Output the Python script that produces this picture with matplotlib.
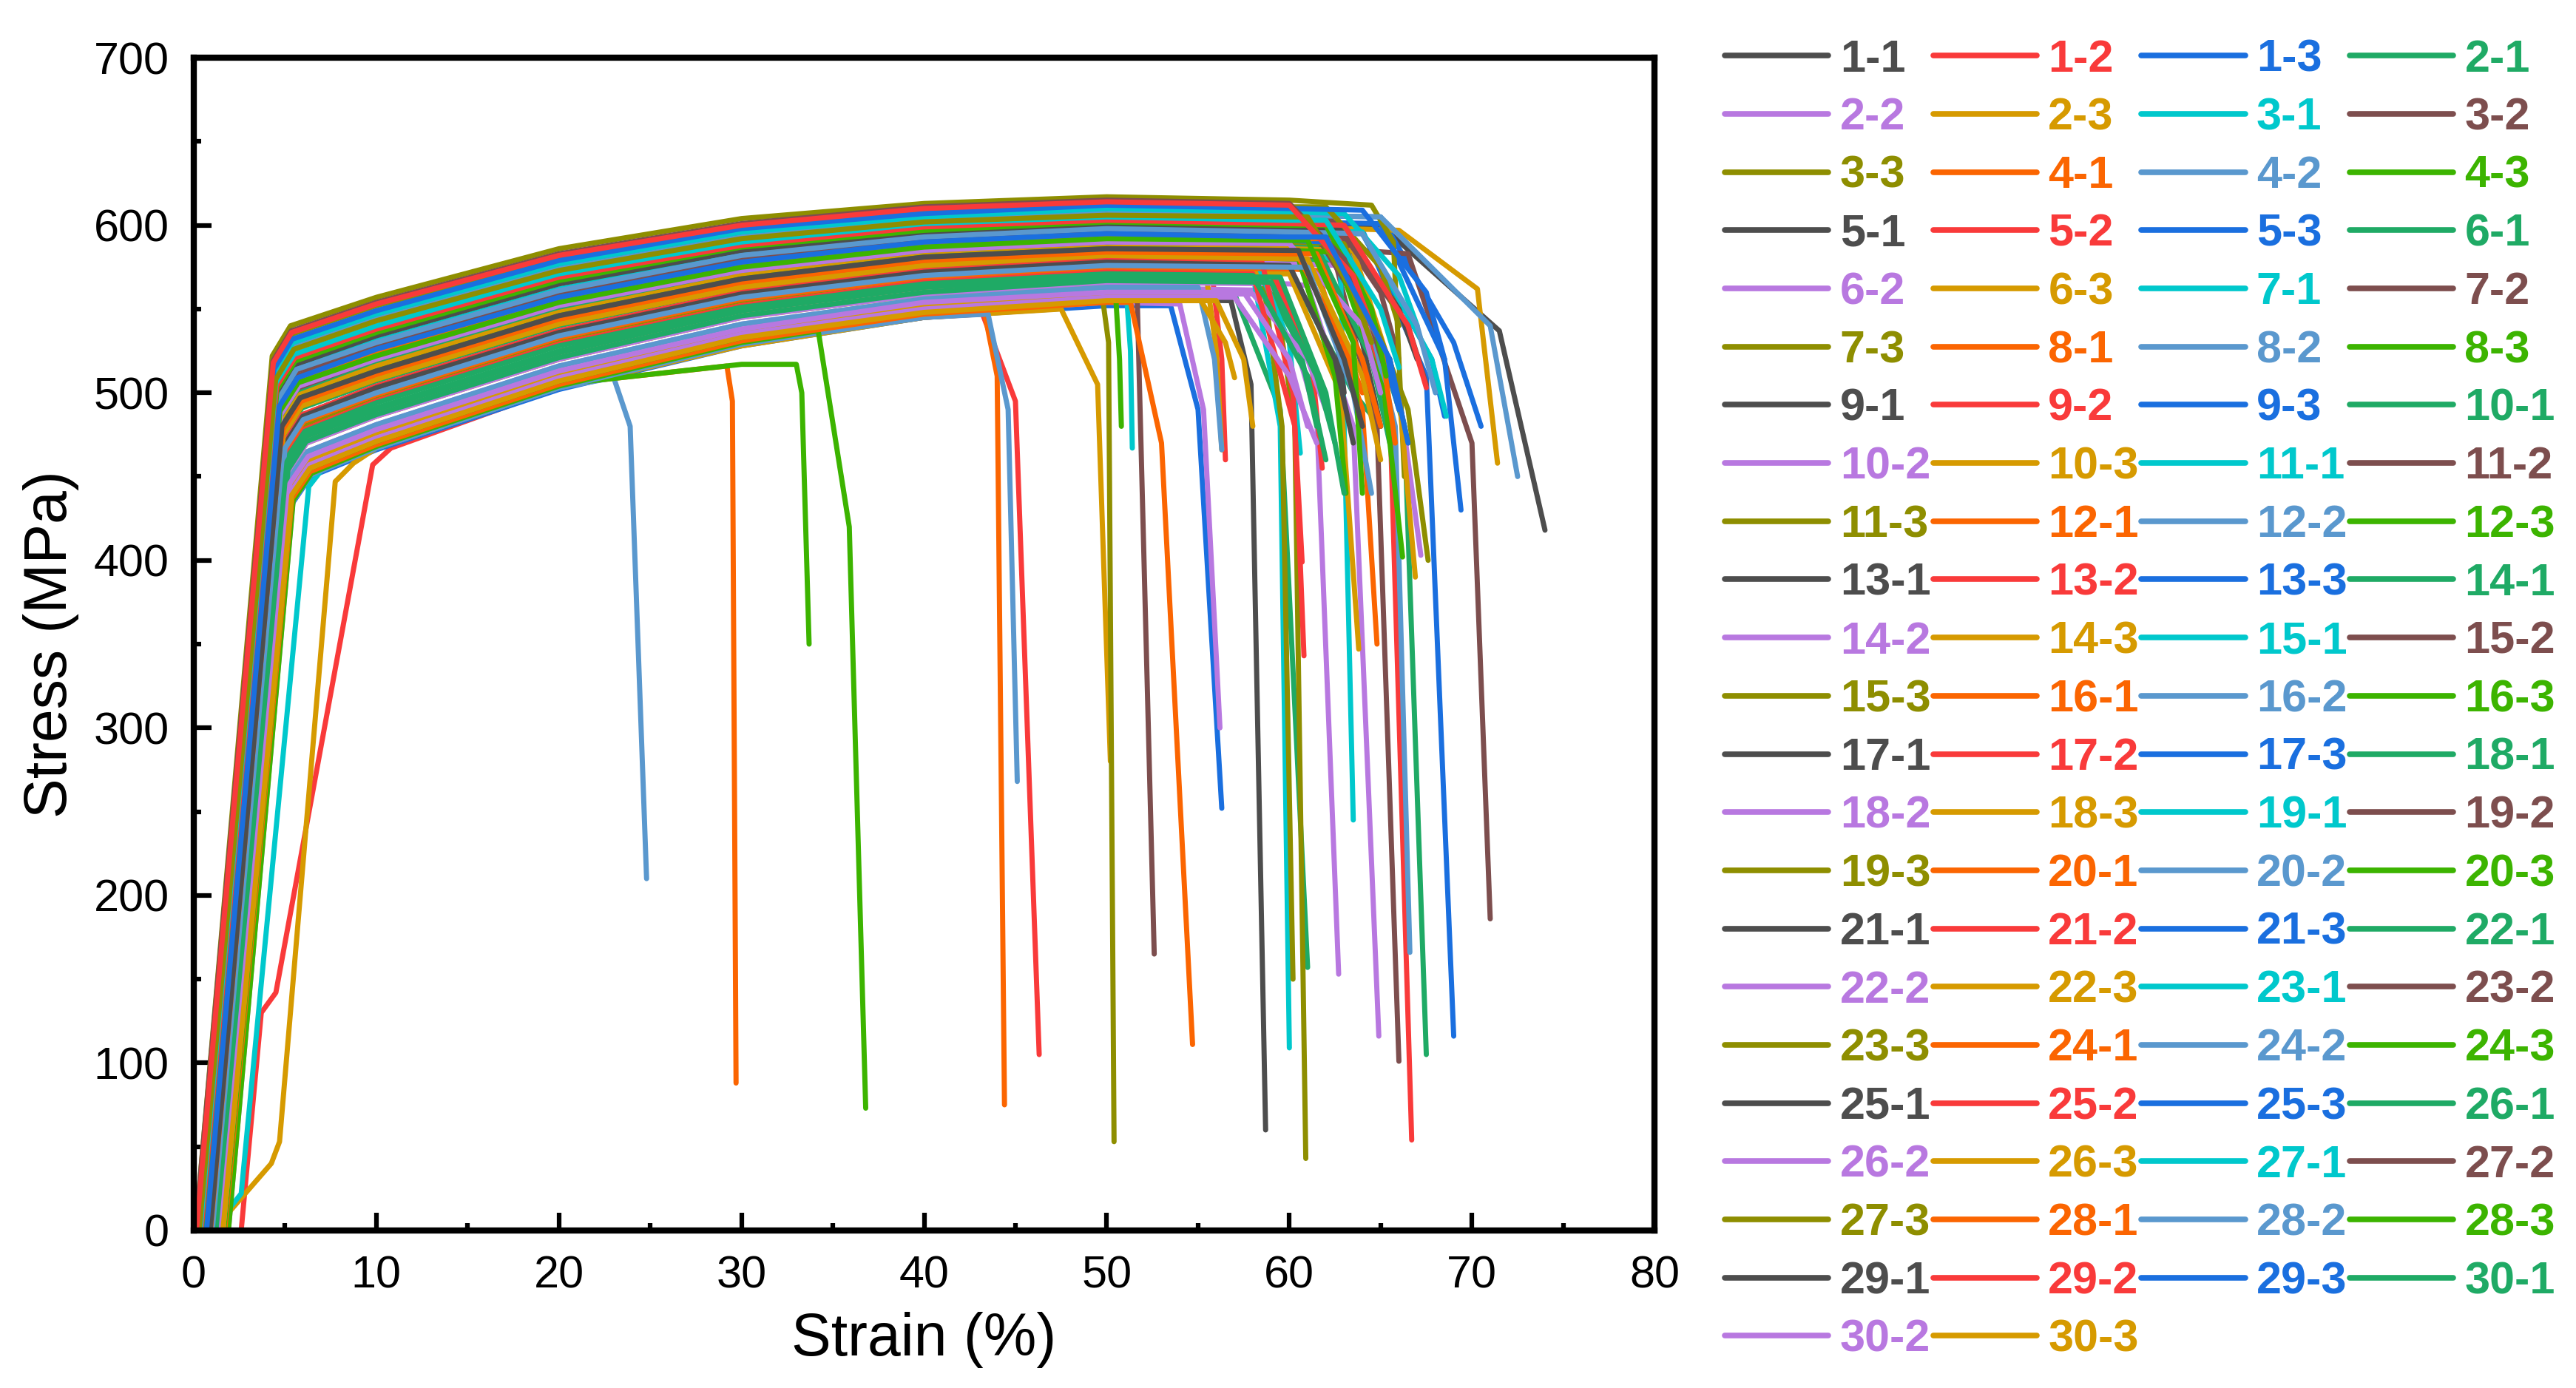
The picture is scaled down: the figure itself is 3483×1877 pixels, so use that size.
import numpy as np
import matplotlib
matplotlib.use("Agg")
import matplotlib.pyplot as plt
from matplotlib.ticker import MultipleLocator

plt.rcParams['font.family'] = ['Liberation Sans', 'DejaVu Sans']

nan = np.nan

# ---------------- categories ----------------
specimens = list(range(1, 31))
repeats = [1, 2, 3]
labels = [f"{s}-{r}" for s in specimens for r in repeats]

palette = ['#4D4D4D', '#F93A3A', '#1A6FDF', '#1FAA65', '#B878E0', '#D69A00',
           '#00C8CC', '#7D4E4E', '#8E8E00', '#FB6501', '#5A98CE', '#3CB400']

# hardening read-out strains (%)
grid_strain = [10, 20, 30, 40, 50, 60]
knee_offset = 1.0   # strain (%) between end of elastic line and knee point

# ---------------- values ----------------
toe_x = [1.6, 2.6, 1.7, 1.5, 1.9, 0.3, 1.0, 0.3, 1.6, 1.8,
         1.75, 1.7, 0.4, 1.3, 0.5, 1.2, 1.5, 1.4, 1.3, 1.0,
         1.2, 1.8, 1.7, 1.9, 0.9, 0.7, 0.3, 1.0, 1.4, 0.5,
         0.15, 0.9, 1.1, 1.7, 0.95, 1.65, 0.8, 1.2, 0.4, 1.3,
         1.1, 1.25, 0.9, 0.25, 0.1, 1.2, 0.3, 1.0, 0.7, 1.1,
         0.6, 0.85, 1.5, 0.9, 0.6, 0.7, 0.8, 1.0, 1.45, 0.95,
         0.5, 1.3, 0.75, 1.35, 0.8, 1.5, 0.25, 0.6, 0.15, 0.7,
         0.6, 0.5, 1.1, 0.4, 0.25, 1.3, 1.6, 1.0, 0.35, 0.1,
         0.3, 0.95, 1.2, 0.8, 0.9, 0.15, 0.7, 1.3, 1.5, 1.6]

yld_x = [5.35, 9.8, 5.40, 5.29, 5.45, 7.75, 6.3, 4.47, 5.38, 5.42,
         5.40, 5.38, 4.52, 5.13, 4.58, 5.02, 5.24, 5.18, 5.07, 4.91,
         5.05, 5.40, 5.42, 5.45, 4.80, 4.69, 4.47, 4.93, 5.18, 4.58,
         4.36, 4.78, 4.96, 5.38, 4.85, 5.36, 4.74, 5.02, 4.52, 5.13,
         4.96, 5.07, 4.85, 4.41, 4.30, 5.02, 4.47, 4.91, 4.69, 4.96,
         4.63, 4.80, 5.29, 4.82, 4.61, 4.67, 4.74, 4.89, 5.24, 4.83,
         4.60, 5.07, 4.72, 5.16, 4.76, 5.31, 4.43, 4.65, 4.38, 4.71,
         4.63, 4.56, 4.98, 4.54, 4.39, 5.09, 5.33, 4.91, 4.50, 4.34,
         4.49, 4.87, 5.00, 4.72, 4.83, 4.36, 4.69, 5.11, 5.27, 5.37]

yld_s = [440, 457, 434, 445, 437, 447, 444, 509, 438, 436,
         435, 437, 505, 458, 501, 466, 449, 453, 462, 475,
         464, 436, 435, 436, 483, 492, 509, 474, 453, 501,
         518, 484, 470, 437, 479, 439, 488, 466, 505, 458,
         470, 462, 479, 513, 522, 466, 509, 475, 492, 470,
         496, 483, 445, 482, 497, 493, 488, 476, 449, 480,
         500, 462, 489, 454, 487, 444, 512, 495, 517, 491,
         496, 502, 469, 504, 514, 461, 441, 475, 506, 519,
         508, 478, 467, 489, 480, 518, 492, 459, 446, 439]

knee_s = [456, 467, 450, 461, 453, 458, 458, 527, 454, 452,
          451, 453, 522, 474, 518, 483, 465, 470, 478, 492,
          480, 452, 451, 452, 500, 509, 527, 491, 470, 518,
          536, 501, 487, 453, 496, 455, 505, 483, 522, 474,
          487, 478, 496, 531, 540, 483, 527, 492, 509, 487,
          514, 500, 461, 499, 515, 510, 505, 493, 465, 497,
          517, 478, 506, 471, 504, 460, 530, 513, 535, 508,
          514, 519, 486, 521, 532, 477, 457, 492, 523, 537,
          526, 495, 484, 506, 497, 536, 509, 475, 462, 455]

s10 = [472, nan, 466, 477, 469, 467, 472, 544, 470, 468,
       467, 469, 539, 490, 535, 499, 481, 486, 495, 508,
       497, 468, 467, 468, 517, 526, 544, 507, 486, 535,
       553, 518, 504, 469, 512, 471, 521, 499, 539, 490,
       504, 495, 512, 548, 557, 499, 544, 508, 526, 504,
       530, 517, 477, 516, 531, 527, 521, 509, 481, 513,
       534, 495, 522, 487, 520, 476, 547, 529, 552, 525,
       530, 536, 503, 538, 549, 494, 473, 508, 540, 554,
       543, 511, 500, 522, 513, 553, 526, 491, 478, 471]

s20 = [508, 503, 502, 512, 505, 503, 508, 574, 506, 505,
       503, 505, 570, 524, 566, 533, 516, 520, 529, 541,
       531, 504, 503, 504, 549, 557, 574, 540, 520, 566,
       582, 550, 537, 505, 545, 507, 553, 533, 570, 524,
       537, 529, 545, 578, 586, 533, 574, 541, 557, 537,
       561, 549, 512, 548, 562, 558, 553, 542, 516, 546,
       565, 529, 554, 521, 552, 511, 577, 560, 581, 556,
       561, 567, 536, 569, 579, 528, 509, 541, 571, 583,
       573, 544, 534, 554, 546, 582, 557, 525, 513, 507]

s30 = [534, 529, 528, 537, 531, 528, 534, 593, 532, nan,
       nan, 517, 589, 549, 586, 556, 541, 545, 552, 563,
       554, 530, 529, 530, 571, 578, 593, 562, 545, 586,
       600, 572, 560, 531, 567, 533, 574, 556, 589, 549,
       560, 552, 567, 597, 604, 556, 593, 563, 578, 560,
       582, 571, 537, 570, 583, 579, 574, 564, 541, 568,
       585, 552, 575, 546, 573, 536, 596, 581, 599, 577,
       582, 587, 559, 588, 598, 551, 535, 563, 590, 601,
       592, 566, 557, 575, 568, 600, 578, 550, 538, 533]

s40 = [549, 545, 545, 553, 547, 545, 549, 603, 548, nan,
       nan, nan, 600, 563, 596, 569, 556, 559, 566, 576,
       568, 546, 545, nan, 583, 590, 603, 575, 559, 596,
       610, 584, 573, 547, 580, 549, 586, 569, 600, 563,
       573, 566, 580, 606, 613, 569, 603, 576, 590, 573,
       593, 583, 553, 582, 594, 591, 586, 577, 556, 581,
       595, 566, 587, 560, 585, 552, 605, 592, 609, 589,
       593, 597, 572, 599, 607, 565, 550, 576, 601, 611,
       602, 579, 570, 587, 581, 610, 590, 564, 554, 548]

s50 = [556, nan, 552, 559, 554, nan, 556, nan, nan, nan,
       nan, nan, 604, 569, 601, 575, 563, 566, 572, 582,
       574, nan, nan, nan, 588, 595, 607, 581, 566, 601,
       614, 589, 579, 554, 585, 556, 591, 575, 604, 569,
       579, 572, 585, 611, 617, 575, 607, 582, 595, 579,
       598, 588, 559, 587, 599, 596, 591, 583, 563, 586,
       600, 572, 592, 567, 590, 558, 610, 597, 613, 594,
       598, 602, 578, 603, 612, 571, 557, 582, 605, 615,
       606, 584, 576, 592, 586, 614, 595, 570, 560, 555]

s60 = [nan, nan, nan, nan, nan, nan, nan, nan, nan, nan,
       nan, nan, 602, nan, 599, nan, nan, nan, nan, 580,
       nan, nan, nan, nan, 587, 593, 606, 579, 565, 599,
       nan, 588, nan, nan, 584, nan, nan, nan, 602, nan,
       577, nan, nan, 609, 615, 574, 606, 580, 593, nan,
       596, 587, nan, 586, 597, 594, 590, 581, nan, 585,
       598, nan, 591, nan, nan, nan, 608, 595, 611, 592,
       596, 600, nan, 601, 610, nan, nan, 580, 603, nan,
       605, 583, 575, 591, 585, nan, 593, nan, nan, nan]

neck_x = [56.8, 43.2, 53.5, 57.0, 54.0, 47.5, 51.1, 50.0, 49.8, 29.2,
          23.0, 33.0, 65.0, 55.8, 64.0, 60.0, 59.5, 55.5, 58.0, 62.5,
          58.5, 43.3, 43.5, 34.2, 62.0, 63.0, 65.0, 63.5, 61.0, 66.0,
          58.0, 66.5, 59.0, 51.3, 63.5, 50.5, 60.0, 59.0, 65.0, 58.5,
          63.0, 60.0, 58.0, 62.0, 64.5, 61.5, 65.0, 60.5, 61.0, 58.5,
          64.0, 61.5, 58.0, 63.5, 64.0, 61.5, 63.0, 60.5, 55.0, 62.5,
          63.0, 58.0, 62.0, 59.0, 60.0, 55.0, 63.0, 63.0, 62.0, 62.0,
          64.0, 62.0, 60.0, 63.0, 64.0, 58.0, 57.0, 61.0, 62.0, 60.0,
          61.0, 61.5, 61.0, 61.0, 60.5, 60.0, 62.0, 59.5, 57.5, 56.0]

neck_s = [555, 547, 552, 559, 553, 550, 556, 607, 554, 516,
          509, 517, 600, 568, 597, 574, 561, 566, 571, 579,
          573, 548, 547, 537, 586, 592, 605, 578, 564, 597,
          613, 583, 577, 554, 583, 556, 590, 574, 601, 568,
          576, 571, 584, 608, 612, 573, 605, 580, 593, 578,
          595, 587, 559, 585, 596, 594, 589, 581, 563, 584,
          597, 571, 590, 566, 589, 558, 607, 594, 611, 592,
          595, 600, 576, 600, 609, 570, 557, 580, 603, 613,
          605, 583, 575, 591, 585, 612, 593, 569, 560, 555]

bend_x = [57.9, 45.0, 55.0, 59.5, 55.3, 49.5, 51.3, 51.6, 50.1, 29.5,
          23.9, 33.3, 71.5, 56.3, 67.5, 63.5, 61.5, 56.0, 59.5, 64.8,
          59.6, 44.0, 44.6, 35.9, 65.5, 65.5, 69.0, 66.3, 63.5, 70.3,
          62.8, 70.0, 60.3, 53.0, 65.8, 50.7, 62.5, 61.2, 68.5, 60.5,
          66.0, 62.8, 60.0, 65.0, 65.7, 64.0, 71.0, 62.5, 64.0, 60.2,
          67.8, 64.5, 61.0, 66.0, 67.8, 64.5, 66.5, 63.0, 55.9, 65.2,
          66.0, 60.3, 65.0, 61.5, 64.0, 56.5, 66.0, 66.5, 65.0, 65.0,
          67.0, 64.5, 62.5, 66.5, 67.5, 61.0, 60.0, 64.0, 65.0, 63.0,
          63.5, 64.0, 63.5, 63.5, 63.0, 63.5, 65.5, 62.0, 60.0, 57.5]

bend_s = [505, 495, 490, 490, 490, 505, 525, 585, 530, 495,
          480, 500, 537, 520, 510, 500, 485, 525, 480, 480,
          480, 510, 490, 420, 520, 490, 530, 480, 480, 562,
          575, 470, 480, 470, 480, 520, 540, 520, 520, 530,
          500, 500, 530, 560, 590, 490, 540, 510, 530, 500,
          520, 520, 520, 500, 520, 540, 490, 530, 520, 500,
          550, 480, 530, 510, 540, 530, 570, 540, 575, 530,
          540, 550, 520, 540, 560, 510, 510, 510, 550, 580,
          560, 520, 500, 530, 520, 570, 520, 500, 520, 520]

end_x = [58.7, 46.3, 56.3, 61.0, 56.2, 50.2, 51.4, 52.6, 50.4, 29.7,
         24.8, 33.7, 74.0, 56.5, 69.0, 65.0, 62.7, 56.3, 60.0, 66.0,
         60.2, 44.4, 45.1, 36.8, 66.5, 66.7, 70.5, 67.5, 64.9, 71.4,
         63.5, 71.0, 60.9, 54.7, 66.6, 50.8, 63.0, 61.8, 69.4, 61.5,
         67.2, 63.8, 60.6, 66.0, 66.3, 64.8, 72.5, 63.1, 65.0, 60.7,
         68.5, 65.5, 62.0, 66.9, 68.6, 65.5, 67.6, 64.0, 56.3, 66.2,
         67.0, 60.8, 66.0, 62.5, 65.0, 57.0, 67.0, 67.5, 66.0, 65.8,
         68.0, 65.3, 63.5, 67.5, 68.5, 62.0, 61.5, 65.0, 66.0, 64.0,
         64.5, 65.0, 64.5, 64.0, 64.0, 64.5, 66.5, 63.0, 61.0, 58.0]

end_s = [60, 105, 252, 157, 300, 280, 467, 165, 53, 88,
         210, 350, 418, 460, 116, 480, 153, 466, 109, 101,
         150, 75, 268, 73, 470, 54, 480, 105, 116, 458,
         245, 186, 43, 111, 166, 480, 500, 455, 430, 480,
         403, 347, 464, 520, 450, 350, 450, 440, 480, 399,
         486, 470, 490, 390, 486, 505, 400, 500, 466, 402,
         520, 343, 490, 470, 500, 509, 540, 505, 540, 470,
         500, 510, 470, 503, 520, 460, 470, 460, 515, 550,
         530, 480, 440, 440, 480, 540, 470, 440, 480, 480]

# extra points on the loading line of the three specimens with a slack start
kink_strain = {1: [3.7, 4.5], 5: [1.7, 4.25, 4.7], 6: [2.6]}
kink_stress = {1: [130, 142], 5: [8, 40, 53], 6: [22]}

hard_cols = [s10, s20, s30, s40, s50, s60]

# ---------------- figure ----------------
fig = plt.figure(figsize=(34.83, 18.77), dpi=100)
ax = fig.add_axes([0.0752, 0.1135, 0.5671, 0.8449])

lines = []
for i, lab in enumerate(labels):
    xs = [toe_x[i]] + kink_strain.get(i, []) + [yld_x[i], yld_x[i] + knee_offset]
    ys = [0.0] + kink_stress.get(i, []) + [yld_s[i], knee_s[i]]
    for g, col in zip(grid_strain, hard_cols):
        v = col[i]
        if not np.isnan(v) and xs[-1] < g < neck_x[i]:
            xs.append(g)
            ys.append(v)
    xs += [neck_x[i], bend_x[i], end_x[i]]
    ys += [neck_s[i], bend_s[i], end_s[i]]
    ln, = ax.plot(xs, ys, color=palette[i % len(palette)], lw=5.0,
                  solid_joinstyle='round', solid_capstyle='round', label=lab)
    lines.append(ln)

ax.set_xlim(0, 80)
ax.set_ylim(0, 700)
ax.xaxis.set_major_locator(MultipleLocator(10))
ax.xaxis.set_minor_locator(MultipleLocator(5))
ax.yaxis.set_major_locator(MultipleLocator(100))
ax.yaxis.set_minor_locator(MultipleLocator(50))
ax.tick_params(which='both', direction='in', top=False, right=False,
               labelsize=44, pad=24, width=4.5)
ax.tick_params(which='major', length=17)
ax.tick_params(which='minor', length=7)
for sp in ax.spines.values():
    sp.set_linewidth(6)
    sp.set_zorder(5)

ax.set_xlabel('Strain (%)', fontsize=58, labelpad=14)
ax.set_ylabel('Stress (MPa)', fontsize=58, labelpad=14)

# legend, filled row by row in 4 columns
ncol = 4
order = [i for c in range(ncol) for i in range(len(labels)) if i % ncol == c]
leg = fig.legend([lines[i] for i in order], [labels[i] for i in order],
                 ncol=ncol, loc='upper left', bbox_to_anchor=(0.6695, 0.972),
                 frameon=False,
                 prop=dict(family='Liberation Sans', weight='bold', size=44),
                 handlelength=2.3, handletextpad=0.25, columnspacing=0.05,
                 labelspacing=0.355, borderpad=0, borderaxespad=0,
                 labelcolor='linecolor')
for h in leg.legend_handles:
    h.set_linewidth(5.5)

fig.savefig('out.png', dpi=100)
